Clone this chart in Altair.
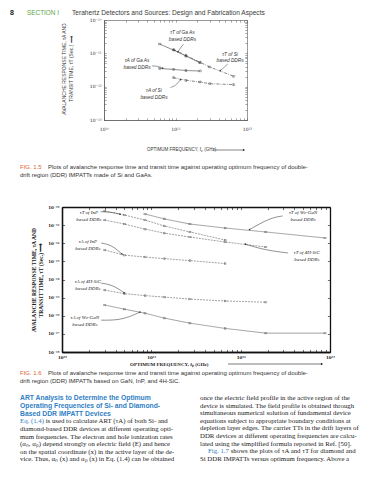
import math
import altair as alt
import pandas as pd

W, H = 373, 464   # drawing area inside the 8px page margin
M = 8

# ---------------- Fig. 1.5 values (frequency in GHz, time in s) ----------------
fig15_freq_gaas = [60, 94, 140, 220]
fig15_tt_gaas = [1.9e-11, 1.25e-11, 8.3e-12, 5.2e-12]
fig15_ta_gaas = [3.5e-12, 3.3e-12, 3.05e-12, 2.95e-12]
fig15_freq_si = [94, 140, 220, 300, 650]
fig15_tt_si = [1.3e-11, 8.6e-12, 5.4e-12, 3.9e-12, 2.05e-12]
fig15_ta_si = [1.86e-12, 1.55e-12, 1.38e-12, 1.23e-12, 1.15e-12]

fig15_note_text = ["τT of Ga As\nbased DDRs", "τT of Si\nbased DDRs",
                   "τA of Ga As\nbased DDRs", "τA of Si\nbased DDRs"]
fig15_note_freq = [125, 580, 29, 50]
fig15_note_tau = [5.0e-11, 1.1e-11, 7.0e-12, 9.1e-13]
fig15_arrows = [
    [(130, 1.9e-11), (118, 1.5e-11), (108, 1.1e-11)],
    [(540, 4.8e-12), (480, 3.8e-12), (420, 3.0e-12)],
    [(47, 4.2e-12), (57, 4.1e-12), (67, 3.55e-12)],
    [(85, 9.5e-13), (100, 1.05e-12), (118, 1.65e-12)],
]

# ---------------- Fig. 1.6 values ----------------
fig16_freq = [30, 50, 85, 140, 270, 670, 1900, 8800]
fig16_tt_inp = [6.0e-11, 3.6e-11, 1.9e-11, 8.9e-12, 4.2e-12, 1.5e-12]
fig16_ta_inp = [4.2e-13, 2.2e-13, 1.74e-13, 1.41e-13, 1.1e-13, 7.6e-14]
fig16_tt_sic = [1.9e-11, 1.15e-11, 6.0e-12, 3.6e-12, 2.2e-12, 1.17e-12, 6.2e-13]
fig16_ta_sic = [2.6e-15, 1.66e-15, 1.29e-15, 1.07e-15, 8.3e-16, 6.5e-16, 5.6e-16]
fig16_tt_gan = [4.1e-11, 2.2e-11, 1.15e-11, 6.9e-12, 4.2e-12, 1.95e-12]
fig16_ta_gan = [3.9e-16, 2.3e-16, 1.38e-16, 7.4e-17, 3.9e-17, 2.0e-17, 1.1e-17, 1.1e-17]

fig16_note_text = ["τT of InP\nbased DDRs", "τT of Wz-GaN\nbased DDRs", "τA of InP\nbased DDRs",
                   "τT of 4H-SiC\nbased DDRs", "τA of 4H-SiC\nbased DDRs", "τA of Wz-GaN\nbased DDRs"]
fig16_note_freq = [20, 5000, 19.5, 5500, 19.5, 18]
fig16_note_tau = [6.8e-11, 6.8e-11, 1.7e-12, 4.2e-13, 1.05e-14, 1.07e-16]
fig16_arrows = [
    [(27, 5.5e-11), (36, 5.2e-11), (45, 4.0e-11)],
    [(2950, 3.2e-11), (2130, 2.5e-11), (1250, 5.6e-12)],
    [(27.5, 1.03e-12), (36, 8e-13), (47, 2.5e-13)],
    [(3400, 2.9e-13), (1870, 4.2e-13), (1120, 9e-13)],
    [(27.5, 6.3e-15), (37, 5e-15), (50, 1.8e-15)],
    [(27.5, 5.7e-17), (47, 5.7e-17), (75, 1.6e-16)],
]

# ---------------- page text ----------------
header_num = "8"
header_section = "SECTION I"
header_title = "Terahertz Detectors and Sources: Design and Fabrication Aspects"
axis_title_y = ["AVALANCHE RESPONSE TIME, τA AND", "TRANSIT TIME, τT (Sec.) ⟶"]
axis_title_x = "OPTIMUM FREQUENCY, fₚ (GHz)"
cap_line1 = "Plots of avalanche response time and transit time against operating optimum frequency of double-"
cap15_line2 = "drift region (DDR) IMPATTs made of Si and GaAs."
cap16_line2 = "drift region (DDR) IMPATTs based on GaN, InP, and 4H-SiC."
heading_lines = ["ART Analysis to Determine the Optimum",
                 "Operating Frequencies of Si- and Diamond-",
                 "Based DDR IMPATT Devices"]
eq_ref = "Eq. (1.4)"
left_body = ["is used to calculate ART (τA) of both Si- and",
             "diamond-based DDR devices at different operating opti-",
             "mum frequencies. The electron and hole ionization rates",
             "(αₙ, αₚ) depend strongly on electric field (E) and hence",
             "on the spatial coordinate (x) in the active layer of the de-",
             "vice. Thus, αₙ (x) and αₚ (x) in Eq. (1.4) can be obtained"]
fig_ref = "Fig. 1.7"
right_body = ["once the electric field profile in the active region of the",
              "device is simulated. The field profile is obtained through",
              "simultaneous numerical solution of fundamental device",
              "equations subject to appropriate boundary conditions at",
              "depletion layer edges. The carrier TTs in the drift layers of",
              "DDR devices at different operating frequencies are calcu-",
              "lated using the simplified formula reported in Ref. [50].",
              "shows the plots of τA and τT for diamond and",
              "Si DDR IMPATTs versus optimum frequency. Above a"]

SUP = str.maketrans("-0123456789", "\u207b\u2070\u00b9\u00b2\u00b3\u2074\u2075\u2076\u2077\u2078\u2079")


def pow_expr(exps):
    expr = "''"
    for e in reversed(list(exps)):
        expr = ("(abs(log(datum.value)/LN10 - (%d)) < 0.01 ? '10%s' : %s)"
                % (e, str(e).translate(SUP), expr))
    return expr


def log_ticks(exps, minor):
    vals = []
    for e in range(exps[0], exps[1]):
        for k in (range(1, 10) if minor else [1]):
            vals.append(k * 10.0 ** e)
    vals.append(10.0 ** exps[1])
    return vals


def text(s, x, y, size, font="Liberation Sans", color="#2b2b2b", weight="normal",
         style="normal", align="left", angle=0):
    mk = dict(text=s, font=font, fontSize=size, color=color, fontWeight=weight,
              fontStyle=style, align=align, baseline="middle")
    if angle:
        mk["angle"] = angle
    return alt.Chart(alt.Data(values=[{"a": 1}])).mark_text(**mk).encode(
        x=alt.value(x - M), y=alt.value(y - M))


def arrow_line(x0, x1, y, color, width=0.6, head=6):
    line = alt.Chart(alt.Data(values=[{"a": 1}])).mark_rule(color=color, strokeWidth=width).encode(
        x=alt.value(x0 - M), x2=alt.value(x1 - M), y=alt.value(y - M))
    tip = alt.Chart(alt.Data(values=[{"a": 1}])).mark_point(
        shape="triangle-right", filled=True, size=head, color=color, opacity=1).encode(
        x=alt.value(x1 - M), y=alt.value(y - M))
    return [line, tip]


def panel(series, notes, arrows, box, xexp, yexp, st):
    x0, y0, x1, y1 = [v - M for v in box]
    xs = alt.Scale(type="log", domain=[10.0 ** xexp[0], 10.0 ** xexp[1]], range=[x0, x1], nice=False)
    ys = alt.Scale(type="log", domain=[10.0 ** yexp[0], 10.0 ** yexp[1]], range=[y1, y0], nice=False)

    def fx(f):
        return x0 + (math.log10(f) - xexp[0]) / (xexp[1] - xexp[0]) * (x1 - x0)

    def fy(t):
        return y1 + (math.log10(t) - yexp[0]) / (yexp[1] - yexp[0]) * (y0 - y1)

    rows = []
    for name, freqs, taus, dash in series:
        for f, t in zip(freqs, taus):
            rows.append({"f": f * 1e9, "tau": t, "s": name})
    df = pd.DataFrame(rows)
    names = [s[0] for s in series]
    dashes = [s[3] for s in series]
    c = st["color"]
    base = alt.Chart(df)

    lines = base.mark_line(strokeWidth=st["lw"], color=st["line_color"]).encode(
        x=alt.X("f:Q", scale=xs, axis=None),
        y=alt.Y("tau:Q", scale=ys, axis=None),
        strokeDash=alt.StrokeDash("s:N", scale=alt.Scale(domain=names, range=dashes), legend=None))
    pts = base.mark_point(shape=st["shape"], size=st["psize"], strokeWidth=0.5,
                          color=st["line_color"], angle=st["pangle"], filled=st["pfill"], opacity=1).encode(
        x=alt.X("f:Q", scale=xs, axis=None), y=alt.Y("tau:Q", scale=ys, axis=None))

    common = dict(grid=False, title=None, domainColor=c, domainWidth=st["fw"], tickColor=c,
                  tickWidth=st["tw"])
    lab = dict(labelFont=st["font"], labelFontSize=st["lsize"], labelColor=st["lcolor"],
               labelFontWeight=st["lweight"], labelFlush=False, labelOverlap=False, labelBound=False)
    xmaj = [10.0 ** e for e in range(xexp[0], xexp[1] + 1)]
    ymaj = [10.0 ** e for e in range(yexp[0], yexp[1] + 1)]
    xall = log_ticks(xexp, st["minor_x"])
    yall = log_ticks(yexp, st["minor_y"])

    ax_labels = base.mark_point(opacity=0).encode(
        x=alt.X("f:Q", scale=xs, axis=alt.Axis(
            orient="bottom", offset=y1 - H, values=xmaj, ticks=False, tickSize=0,
            labelExpr=pow_expr(range(xexp[0], xexp[1] + 1)), labelPadding=st["xpad"], **common, **lab)),
        y=alt.Y("tau:Q", scale=ys, axis=alt.Axis(
            orient="left", offset=-x0, values=ymaj, ticks=False, tickSize=0,
            labelExpr=pow_expr(range(yexp[0], yexp[1] + 1)), labelPadding=st["ypad"], **common, **lab)))
    ax_in1 = base.mark_point(opacity=0).encode(
        x=alt.X("f:Q", scale=xs, axis=alt.Axis(orient="top", offset=-y1, values=xall, labels=False,
                                               tickSize=st["ts"], **common)),
        y=alt.Y("tau:Q", scale=ys, axis=alt.Axis(orient="right", offset=x0 - W, values=yall, labels=False,
                                                 tickSize=st["ts"], **common)))
    ax_in2 = base.mark_point(opacity=0).encode(
        x=alt.X("f:Q", scale=xs, axis=alt.Axis(orient="bottom", offset=y0 - H, values=xall, labels=False,
                                               tickSize=st["ts"], **common)),
        y=alt.Y("tau:Q", scale=ys, axis=alt.Axis(orient="left", offset=-x1, values=yall, labels=False,
                                                 tickSize=st["ts"], **common)))

    ndf = pd.DataFrame({"f": [v * 1e9 for v in notes[1]], "tau": notes[2], "t": notes[0]})
    note_layer = alt.Chart(ndf).mark_text(
        lineBreak="\n", align="center", baseline="top", font=st["nfont"], fontSize=st["nsize"],
        fontStyle="italic", lineHeight=st["nlh"], color=st["ncolor"]).encode(
        x=alt.X("f:Q", scale=xs, axis=None), y=alt.Y("tau:Q", scale=ys, axis=None), text="t:N")

    arows, hrows = [], []
    for i, pts_ in enumerate(arrows):
        for k, (f, t) in enumerate(pts_):
            arows.append({"id": i, "k": k, "f": f * 1e9, "tau": t})
        (fa, ta), (fb, tb) = pts_[-2], pts_[-1]
        dx, dy = fx(fb) - fx(fa), fy(tb) - fy(ta)
        ang = math.degrees(math.atan2(dx, -dy)) % 360
        hrows.append({"f": fb * 1e9, "tau": tb, "ang": ang})
    arr = alt.Chart(pd.DataFrame(arows)).mark_line(
        interpolate="basis", strokeWidth=0.5, color=st["ncolor"]).encode(
        x=alt.X("f:Q", scale=xs, axis=None), y=alt.Y("tau:Q", scale=ys, axis=None),
        detail="id:N", order="k:Q")
    heads = alt.Chart(pd.DataFrame(hrows)).mark_point(
        shape="triangle-up", filled=True, size=st["hsize"], color=st["ncolor"], opacity=1).encode(
        x=alt.X("f:Q", scale=xs, axis=None), y=alt.Y("tau:Q", scale=ys, axis=None),
        angle=alt.Angle("ang:Q", scale=None))
    return [lines, pts, ax_labels, ax_in1, ax_in2, note_layer, arr, heads]


st15 = dict(color="#555555", line_color="#333333", fw=0.6, tw=0.5, ts=2.2, font="DejaVu Sans",
            lsize=4.5, lcolor="#333333", lweight="normal", xpad=6, ypad=3, minor_x=True, minor_y=True,
            lw=0.6, shape="cross", psize=5, pangle=45, pfill=False, nfont="Liberation Sans", nsize=4.8,
            nlh=6.5, ncolor="#333333", hsize=4)
st16 = dict(color="#111111", line_color="#444444", fw=1.3, tw=0.6, ts=2.6, font="DejaVu Serif",
            lsize=4.0, lcolor="#222222", lweight="bold", xpad=3, ypad=3, minor_x=True, minor_y=False,
            lw=0.5, shape="cross", psize=4, pangle=45, pfill=False, nfont="Liberation Serif", nsize=5.0,
            nlh=6.5, ncolor="#222222", hsize=4)

fig15_series = [
    ("tT GaAs", fig15_freq_gaas, fig15_tt_gaas, [1, 0]),
    ("tA GaAs", fig15_freq_gaas, fig15_ta_gaas, [1, 0]),
    ("tT Si", fig15_freq_si, fig15_tt_si, [3, 1.2, 0.8, 1.2]),
    ("tA Si", fig15_freq_si, fig15_ta_si, [3, 1.2, 0.8, 1.2]),
]
fig16_series = [
    ("tT InP", fig16_freq, fig16_tt_inp, [2, 1]),
    ("tA InP", fig16_freq, fig16_ta_inp, [2, 1]),
    ("tT SiC", fig16_freq, fig16_tt_sic, [2, 1]),
    ("tA SiC", fig16_freq, fig16_ta_sic, [2, 1]),
    ("tT GaN", fig16_freq[2:], fig16_tt_gan, [1, 0]),
    ("tA GaN", fig16_freq, fig16_ta_gan, [1, 0]),
]

BLUE = "#2f80c4"
layers = []
# header
layers.append(text(header_num, 10, 13, 7.0, weight="bold", color="#222222"))
layers.append(text(header_section, 27, 13, 6.4, color="#5aa544"))
layers.append(text(header_title, 72, 13, 6.6, color="#3a3a3a"))

# Fig 1.5
layers += panel(fig15_series, (fig15_note_text, fig15_note_freq, fig15_note_tau), fig15_arrows,
                (104, 20, 247, 120), (10, 12), (-13, -10), st15)
layers.append(text(axis_title_y[0], 64, 69, 5.0, angle=270, align="center", color="#333333"))
layers.append(text(axis_title_y[1], 71, 69, 5.0, angle=270, align="center", color="#333333"))
layers.append(text(axis_title_x, 147, 150, 4.5, color="#333333"))
layers += arrow_line(213, 244, 150, "#333333")
layers.append(text("FIG. 1.5", 20, 167, 6.0, color="#e0622f"))
layers.append(text(cap_line1, 48, 167, 6.0, color="#333333"))
layers.append(text(cap15_line2, 20, 175, 6.0, color="#333333"))

# Fig 1.6
layers += panel(fig16_series, (fig16_note_text, fig16_note_freq, fig16_note_tau), fig16_arrows,
                (62, 207, 330, 352), (10, 13), (-18, -10), st16)
layers.append(text(axis_title_y[0], 34, 280, 5.6, font="Liberation Serif", weight="bold", angle=270,
                   align="center", color="#222222"))
layers.append(text(axis_title_y[1], 41, 280, 5.6, font="Liberation Serif", weight="bold", angle=270,
                   align="center", color="#222222"))
layers.append(text(axis_title_x, 130, 364, 5.0, font="Liberation Serif", weight="bold", color="#222222"))
layers += arrow_line(228, 322, 364, "#222222")
layers.append(text("FIG. 1.6", 20, 373, 6.0, color="#e0622f"))
layers.append(text(cap_line1, 48, 373, 6.0, color="#333333"))
layers.append(text(cap16_line2, 20, 381, 6.0, color="#333333"))

# body text
for i, s in enumerate(heading_lines):
    layers.append(text(s, 20, 398 + 7.8 * i, 6.8, weight="bold", color=BLUE))
layers.append(text(eq_ref, 20, 421.4, 6.8, font="Liberation Serif", color=BLUE))
for i, s in enumerate(left_body):
    layers.append(text(s, 45.7 if i == 0 else 20, 421.4 + 7.6 * i, 6.8, font="Liberation Serif",
                       color="#222222"))
layers.append(text(fig_ref, 208, 398 + 7.6 * 7, 6.8, font="Liberation Serif", color=BLUE))
for i, s in enumerate(right_body):
    layers.append(text(s, 230.7 if i == 7 else 200, 398 + 7.6 * i, 6.8, font="Liberation Serif",
                       color="#222222"))

chart = alt.layer(*layers).properties(
    width=W, height=H, padding=0, autosize=alt.AutoSizeParams(type="none")
).resolve_scale(x="independent", y="independent", strokeDash="independent").configure_view(
    strokeOpacity=0)

chart.save("out.html", embed_options={"renderer": "svg", "actions": False})
